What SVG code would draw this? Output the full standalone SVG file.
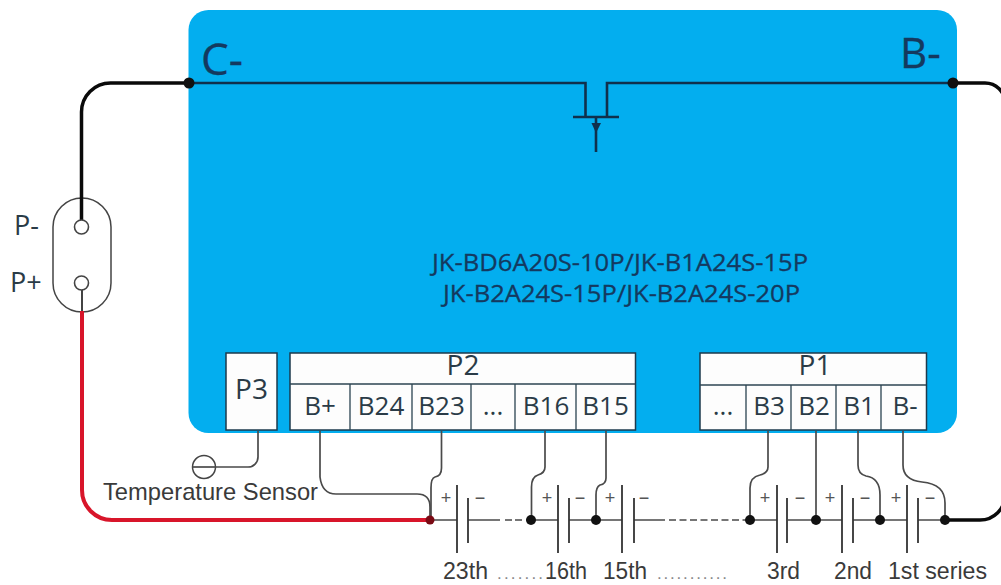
<svg xmlns="http://www.w3.org/2000/svg" width="1001" height="585" viewBox="0 0 1001 585">
<style>
.bx{fill:#fdfdfd;stroke:#1d3a4c;stroke-width:1.5}
.dv{stroke:#2c4452;stroke-width:1.3;fill:none}
.t{font-family:"Open Sans","Noto Sans",sans-serif;fill:#2a3b47}
.b{font-family:"Open Sans","Noto Sans",sans-serif;fill:#14395f;stroke:#14395f;stroke-width:0.3}
.c{font-size:26px;text-anchor:middle}
.d{font-family:"Liberation Sans",Arial,sans-serif;fill:#3a3a3a;font-size:23px}
.w{fill:none;stroke:#4a4a4a;stroke-width:1.7}
.p{fill:none;stroke:#333;stroke-width:1.8}
.k{fill:none;stroke:#0a0a0a;stroke-width:3.500}
.g{fill:none;stroke:#10304c;stroke-width:2.600}
.m{font-family:"Liberation Sans",Arial,sans-serif;fill:#555;font-size:18px;text-anchor:middle}
</style>
<rect width="1001" height="585" fill="#ffffff"/>
<g id="board"><rect x="188.500" y="10" width="768.500" height="423" rx="20" fill="#03aeef"/>
<text class="b" x="201" y="75" font-size="44">C-</text>
<text class="b" x="900" y="68" font-size="42">B-</text>
<text class="b" x="432" y="271" font-size="24" textLength="376" lengthAdjust="spacingAndGlyphs">JK-BD6A20S-10P/JK-B1A24S-15P</text>
<text class="b" x="443" y="302" font-size="24" textLength="357" lengthAdjust="spacingAndGlyphs">JK-B2A24S-15P/JK-B2A24S-20P</text></g>
<g id="mosfet">
<path class="g" d="M189 83H585.500V117M573 117H619M607 117V83H953"/>
<path class="g" d="M596 117V152"/>
<polygon points="591.500,123 601,123 596,133" fill="#10304c"/></g>
<g id="P3"><rect class="bx" x="226" y="353" width="51" height="77"/><text class="t c" x="251.500" y="399" style="font-size:28px">P3</text></g>
<g id="P2"><rect class="bx" x="290" y="353" width="345.500" height="77"/>
<path class="dv" d="M290 384H635M350 384V430M412 384V430M471 384V430M515 384V430M576 384V430"/>
<text class="t c" x="463" y="375" style="font-size:28px">P2</text>
<text class="t c" x="320" y="415">B+</text><text class="t c" x="381" y="415">B24</text><text class="t c" x="441.500" y="415">B23</text><text class="t c" x="493" y="415">...</text><text class="t c" x="546" y="415">B16</text><text class="t c" x="605.500" y="415">B15</text></g>
<g id="P1"><rect class="bx" x="700" y="353" width="226.500" height="77"/>
<path class="dv" d="M700 385H926" stroke-width="2"/><path class="dv" d="M746 385V430M791 385V430M836 385V430M881 385V430"/>
<text class="t c" x="815" y="375" style="font-size:28px">P1</text>
<text class="t c" x="723" y="415">...</text><text class="t c" x="769" y="415">B3</text><text class="t c" x="814" y="415">B2</text><text class="t c" x="859" y="415">B1</text><text class="t c" x="905" y="415">B-</text></g>
<g id="port"><rect x="53" y="198" width="58" height="114" rx="29" fill="#ffffff" stroke="#444" stroke-width="1.500"/>
<text class="t" x="14" y="235" font-size="27">P-</text>
<text class="t" x="10" y="292" font-size="27">P+</text></g>
<g id="connectors">
<path class="k" d="M81.500 220V112A29 29 0 0 1 110.500 83H189"/>
<path class="k" d="M953 83H985A20 20 0 0 1 1005 103V495A25 25 0 0 1 980 520H945"/>
<path d="M82 311V490A30 30 0 0 0 112 520H430" fill="none" stroke="#d8152a" stroke-width="4"/>
<path class="w" d="M82 290V311" style="stroke:#222"/>
<circle cx="81.500" cy="227" r="7" fill="#fff" stroke="#444" stroke-width="1.600"/>
<circle cx="81.500" cy="283" r="7" fill="#fff" stroke="#444" stroke-width="1.600"/>
<path class="w" d="M258 431V457A10 10 0 0 1 248 467H215"/>
<circle cx="204" cy="467" r="11.500" fill="none" stroke="#444" stroke-width="1.500"/><path class="w" d="M193 467H216"/>
<path class="w" d="M320 431V477Q322 494 336 494H417Q430 494 430 507V520"/>
<path class="w" d="M441.500 431V468Q441.500 476 435 477Q431 478 431 488V520"/>
<path class="w" d="M545 431V467Q545 473 538 475Q531.500 477 531.500 487V520"/>
<path class="w" d="M606 431V478Q606 484 600 485Q596 487 596 495V520"/>
<path class="w" d="M768 431V467Q768 473 760 475Q750 477 750 488V520"/>
<path class="w" d="M816 431V520"/>
<path class="w" d="M858 431V465Q858 474 866 476Q880 478 880 495V520"/>
<path class="w" d="M903 431V465Q903 480 922 482Q945 484 945 503V520"/>
<path class="w" d="M430 520H457M468 520H500M531 520H558M569 520H596H622M634 520H665M750 520H777M788 520H816H842M853 520H880H907M918 520H945"/>
<path class="w" d="M505 520H512M515 520H522M526 520H531M669 520H746" stroke-dasharray="7 3.500"/>
<g class="p"><path d="M457 485V553M468 498V543M558 485V553M569 498V543M622 485V553M634 498V543M777 485V553M787 498V543M842 485V553M853 498V543M907 485V553M918 498V543"/></g>
<g fill="#111"><circle cx="430" cy="520" r="4.500" fill="#7a0a14"/><circle cx="531" cy="520" r="5"/><circle cx="596" cy="520" r="5"/><circle cx="750" cy="520" r="5"/><circle cx="816" cy="520" r="5"/><circle cx="880" cy="520" r="5"/><circle cx="945" cy="520" r="5"/><circle cx="189" cy="83" r="5.500"/><circle cx="953" cy="83" r="5.500"/></g>
</g>
<g id="labels">
<text class="d" x="103" y="500" textLength="215" lengthAdjust="spacingAndGlyphs" style="font-size:23.800px">Temperature Sensor</text>
<g><text class="m" x="446" y="504">+</text><text class="m" x="480" y="504">−</text><text class="m" x="547" y="504">+</text><text class="m" x="580" y="504">−</text><text class="m" x="610" y="504">+</text><text class="m" x="644" y="504">−</text><text class="m" x="765" y="504">+</text><text class="m" x="800" y="504">−</text><text class="m" x="830" y="504">+</text><text class="m" x="865" y="504">−</text><text class="m" x="896" y="504">+</text><text class="m" x="930" y="504">−</text></g>
<text class="d" x="443" y="579" textLength="45" lengthAdjust="spacingAndGlyphs">23th</text><text class="d" x="497" y="579" style="fill:#888;font-size:17px" textLength="46">.......</text><text class="d" x="545" y="579" textLength="42" lengthAdjust="spacingAndGlyphs">16th</text>
<text class="d" x="603" y="579" textLength="44" lengthAdjust="spacingAndGlyphs">15th</text><text class="d" x="657" y="579" style="fill:#888;font-size:17px" textLength="70">...........</text>
<text class="d" x="767" y="579" textLength="33" lengthAdjust="spacingAndGlyphs">3rd</text><text class="d" x="834" y="579" textLength="38" lengthAdjust="spacingAndGlyphs">2nd</text><text class="d" x="888" y="579" textLength="99" lengthAdjust="spacingAndGlyphs">1st series</text>
</g>
</svg>
